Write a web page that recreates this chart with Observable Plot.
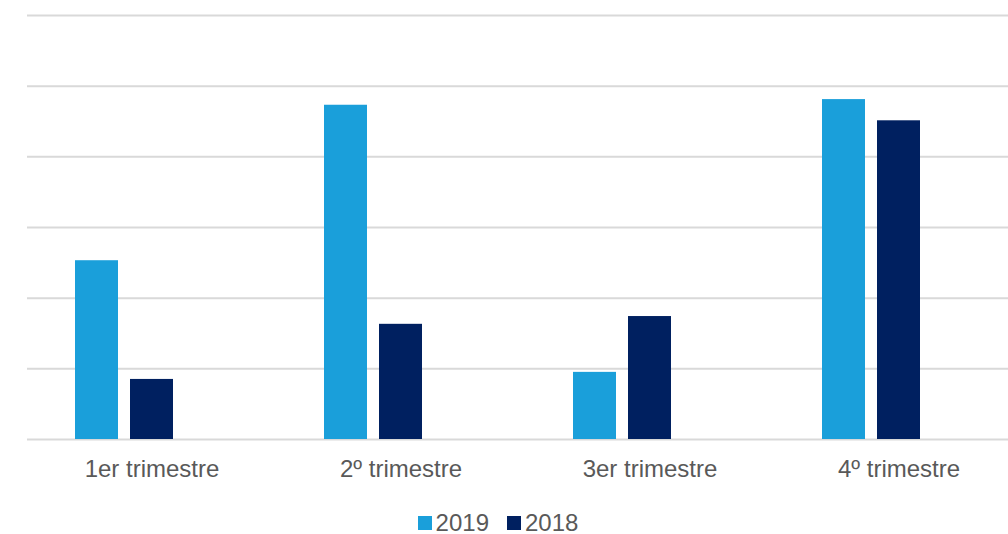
<!DOCTYPE html>
<html>
<head>
<meta charset="utf-8">
<script src="https://cdn.jsdelivr.net/npm/d3@7"></script>
<script src="https://cdn.jsdelivr.net/npm/@observablehq/plot@0.6"></script>
<style>
  html, body { margin: 0; padding: 0; background: #fff; overflow: hidden; width: 1008px; height: 534px; }
  #chart { width: 1008px; overflow: hidden; height: 490px; }
  #chart svg { max-width: none !important; display: block; }
  #legend { display: flex; justify-content: center; align-items: center; gap: 18px; font-family: "Liberation Sans", Arial, sans-serif; font-size: 24px; line-height: 28px; color: #595959; margin-top: 19px; padding-right: 12px; }
  .item { display: flex; align-items: center; gap: 4px; }
  .sw { width: 14px; height: 14px; display: inline-block; }
</style>
</head>
<body>
<div id="chart"></div>
<div id="legend"></div>
<script>
const quarters = ["1er trimestre", "2º trimestre", "3er trimestre", "4º trimestre"];
const series = ["2019", "2018"];
const values2019 = [2.53, 4.73, 0.95, 4.81];
const values2018 = [0.85, 1.63, 1.74, 4.51];
const gridTicks = [0, 1, 2, 3, 4, 5, 6];
const colors = ["#1a9fda", "#002060"];

const data = [];
quarters.forEach((q, i) => {
  data.push({quarter: q, series: "2019", value: values2019[i]});
  data.push({quarter: q, series: "2018", value: values2018[i]});
});

// The original chart reserves a third (empty) slot in each cluster.
const slots = [...series, "(vacío)"];

const chart = Plot.plot({
  width: 1023,
  height: 490,
  marginLeft: 26,
  marginRight: 0,
  marginTop: 15,
  marginBottom: 51,
  style: {fontFamily: "'Liberation Sans', Arial, sans-serif", fontSize: "24px", color: "#595959", background: "#fff", maxWidth: "none"},
  fx: {domain: quarters, padding: 0, axis: "bottom", tickSize: 0, tickPadding: 20, label: null},
  x: {domain: slots, axis: null, paddingInner: 0.225, paddingOuter: 0.86},
  y: {domain: [0, 6], axis: null},
  color: {domain: series, range: colors},
  marks: [
    Plot.ruleY(gridTicks, {stroke: "#d9d9d9", strokeWidth: 2}),
    Plot.barY(data, {fx: "quarter", x: "series", y: "value", fill: "series", inset: 0})
  ]
});
document.getElementById("chart").appendChild(chart);

const legend = document.getElementById("legend");
series.forEach((s, i) => {
  const item = document.createElement("div");
  item.className = "item";
  const sw = document.createElement("span");
  sw.className = "sw";
  sw.style.background = colors[i];
  const t = document.createElement("span");
  t.textContent = s;
  item.appendChild(sw);
  item.appendChild(t);
  legend.appendChild(item);
});
</script>
</body>
</html>
